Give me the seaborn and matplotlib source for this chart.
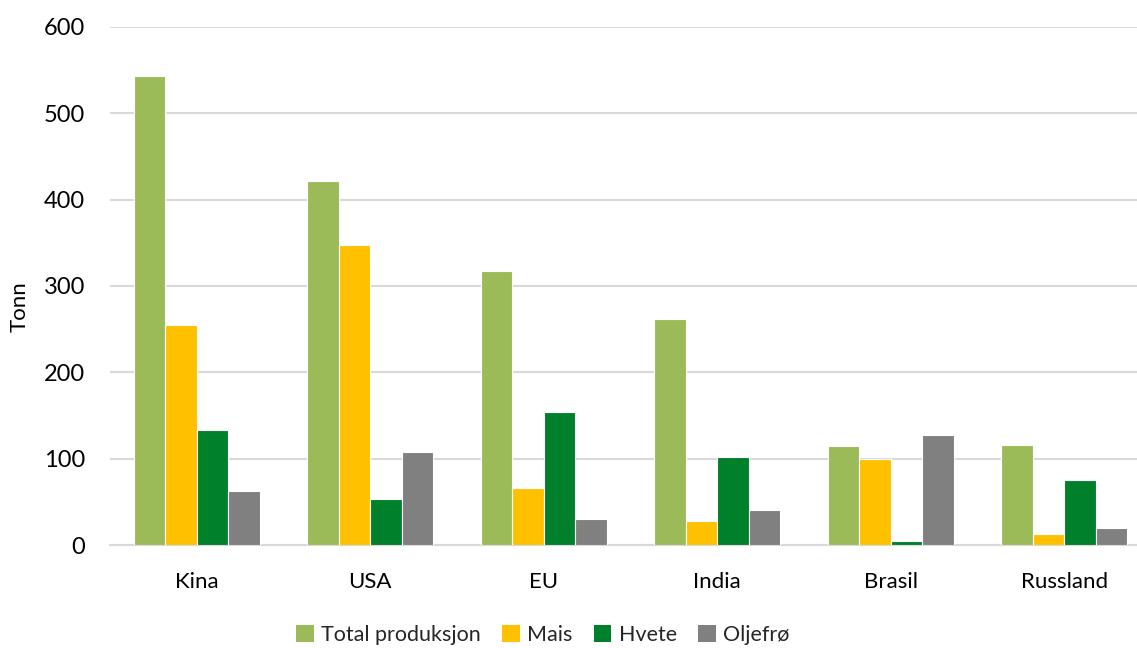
import matplotlib
matplotlib.use("Agg")
import matplotlib.pyplot as plt
import seaborn as sns
import pandas as pd
from matplotlib.patches import Patch

# Production by region (tonnes)
regions = ["Kina", "USA", "EU", "India", "Brasil", "Russland"]
series = ["Total produksjon", "Mais", "Hvete", "Oljefrø"]
total = [543, 421, 317, 262, 115, 116]
mais = [255, 348, 66, 28, 100, 13]
hvete = [133, 53, 154, 102, 5, 75]
oljefro = [63, 108, 30, 41, 128, 20]
y_ticks = [0, 100, 200, 300, 400, 500, 600]

colors = ["#9BBB59", "#FFC000", "#00802B", "#808080"]

df = pd.DataFrame({
    "Region": regions * 4,
    "Serie": sum([[s] * len(regions) for s in series], []),
    "Tonn": total + mais + hvete + oljefro,
})

sns.set_theme(style="white")
plt.rcParams["font.family"] = ["Lato", "DejaVu Sans"]

fig = plt.figure(figsize=(11.37, 6.48), dpi=100)
ax = fig.add_axes([110 / 1137, 1 - 545.3 / 648, (1137 - 110) / 1137, (545.3 - 26.7) / 648])

sns.barplot(data=df, x="Region", y="Tonn", hue="Serie", order=regions,
            hue_order=series, palette=colors, width=0.726, gap=0,
            edgecolor="white", linewidth=0.8, saturation=1, ax=ax, legend=False, zorder=3)

ax.set_ylim(0, 600)
ax.set_xlim(-0.5, 5.419)
ax.set_yticks(y_ticks)
ax.set_yticklabels([str(v) for v in y_ticks])
ax.yaxis.grid(True, color="#D9D9D9", linewidth=1.5, zorder=0)
ax.set_axisbelow(True)
for side in ["left", "right", "top"]:
    ax.spines[side].set_visible(False)
ax.spines["bottom"].set_color("#D9D9D9")
ax.spines["bottom"].set_linewidth(1.5)
ax.tick_params(axis="y", length=0, pad=18, labelsize=17, colors="black")
ax.tick_params(axis="x", length=0, pad=19, labelsize=16, colors="black")
ax.set_xlabel("")
ax.set_ylabel("Tonn", fontsize=16, color="black")
ax.yaxis.set_label_coords(-80 / 1027, 0.46)

handles = [Patch(facecolor=c, edgecolor="none") for c in colors]
fig.legend(handles, series, loc="center", bbox_to_anchor=(543 / 1137, 1 - 635 / 648),
           ncol=4, frameon=False, fontsize=15.5, handlelength=0.8, handleheight=0.8,
           handletextpad=0.35, columnspacing=1.0)

fig.savefig("out.png", dpi=100)
